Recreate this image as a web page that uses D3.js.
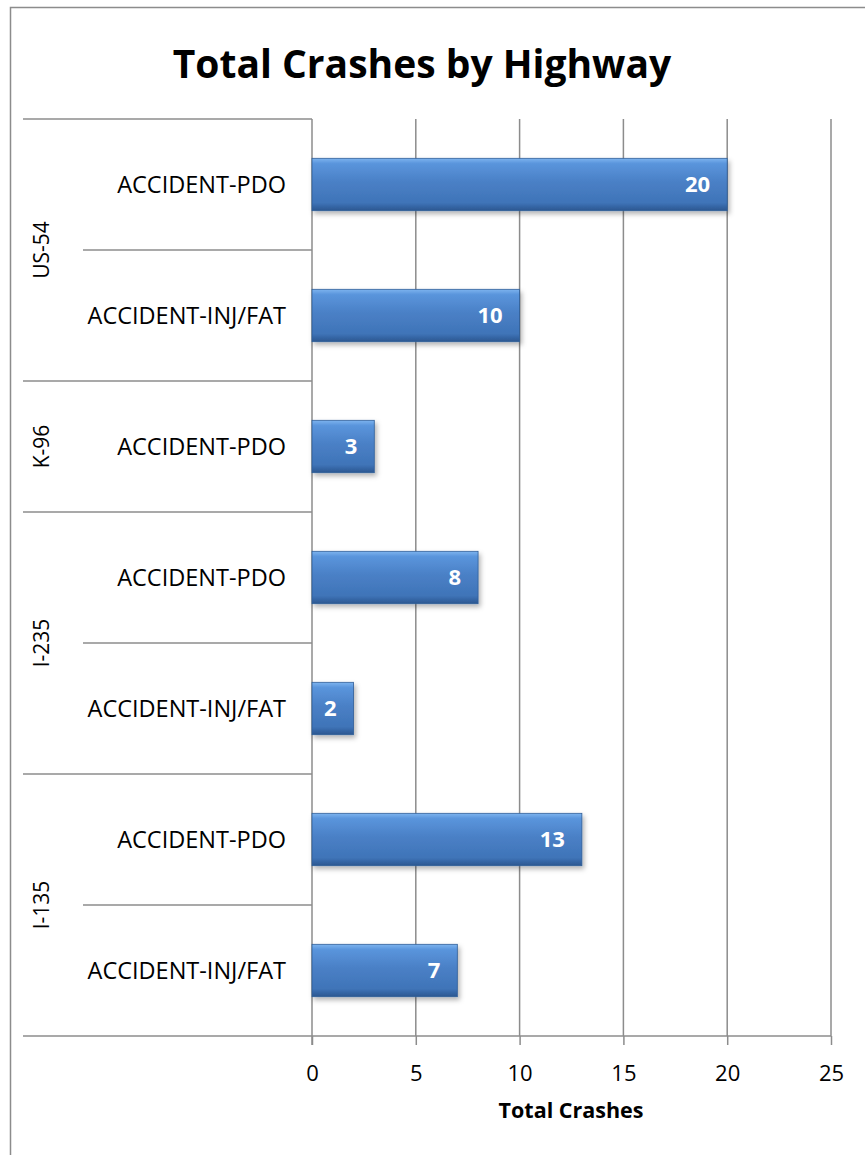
<!DOCTYPE html>
<html lang="en">
<head>
    <meta charset="UTF-8">
    <title>Total Crashes by Highway</title>
    <script src="https://d3js.org/d3.v7.min.js" charset="utf-8"></script>
    <style>
        body { margin: 0; background: white; }
        svg { display: block; font-family: "Open Sans", Lato, sans-serif; }
    </style>
</head>
<body>
    <div id="chart"></div>
    <script>

    // data, top to bottom as in the picture
    var highways = ['US-54', 'US-54', 'K-96', 'I-235', 'I-235', 'I-135', 'I-135'];
    var crashTypes = ['ACCIDENT-PDO', 'ACCIDENT-INJ/FAT', 'ACCIDENT-PDO', 'ACCIDENT-PDO',
                      'ACCIDENT-INJ/FAT', 'ACCIDENT-PDO', 'ACCIDENT-INJ/FAT'];
    var totals = [20, 10, 3, 8, 2, 13, 7];
    var xTicks = [0, 5, 10, 15, 20, 25];

    var width = 865, height = 1155;
    var rows = totals.map((d, i) => ({id: i, highway: highways[i], type: crashTypes[i], value: d}));

    var svg = d3.select('#chart').append('svg')
        .attr('width', width)
        .attr('height', height);

    var defs = svg.append('defs');
    var grad = defs.append('linearGradient')
        .attr('id', 'barGrad')
        .attr('x1', 0).attr('y1', 0).attr('x2', 0).attr('y2', 1);
    [['0%', '#7db4ef'], ['10%', '#5a95dc'], ['45%', '#4a80c6'], ['85%', '#3f74b8'], ['100%', '#2b5690']]
        .forEach(s => grad.append('stop').attr('offset', s[0]).attr('stop-color', s[1]));

    var shadow = defs.append('filter').attr('id', 'shadow')
        .attr('x', '-10%').attr('y', '-20%').attr('width', '130%').attr('height', '160%');
    shadow.append('feDropShadow')
        .attr('dx', 2).attr('dy', 3).attr('stdDeviation', 2.5)
        .attr('flood-color', '#000').attr('flood-opacity', 0.3);

    // outer chart border
    svg.append('rect')
        .attr('x', 10.5).attr('y', 7.5)
        .attr('width', 870).attr('height', 1160)
        .attr('fill', 'none')
        .attr('stroke', '#8c8c8c')
        .attr('stroke-width', 1.5);

    var plotTop = 119, plotBottom = 1036;
    var x = d3.scaleLinear().domain([0, 25]).range([312, 831]);
    var y = d3.scaleBand().domain(rows.map(d => d.id)).range([plotTop, plotBottom]).paddingInner(0.6).paddingOuter(0.3);
    var rowStep = (plotBottom - plotTop) / rows.length;

    // vertical gridlines
    svg.append('g').selectAll('line')
        .data(xTicks.slice(1))
        .enter().append('line')
        .attr('x1', d => x(d)).attr('x2', d => x(d))
        .attr('y1', plotTop).attr('y2', plotBottom)
        .attr('stroke', '#8c8c8c').attr('stroke-width', 1.5);

    // x axis
    var xAxis = svg.append('g')
        .attr('transform', 'translate(0,' + plotBottom + ')')
        .call(d3.axisBottom(x).tickValues(xTicks).tickSize(9).tickPadding(20));
    xAxis.select('.domain').remove();
    xAxis.selectAll('line').attr('stroke', '#8c8c8c').attr('stroke-width', 1.5);
    xAxis.selectAll('text')
        .attr('font-size', '22px')
        .attr('font-family', '"Open Sans", sans-serif')
        .attr('fill', '#000');

    svg.append('line')
        .attr('x1', 23).attr('x2', 831)
        .attr('y1', plotBottom).attr('y2', plotBottom)
        .attr('stroke', '#8c8c8c').attr('stroke-width', 1.5);

    // y axis line
    svg.append('line')
        .attr('x1', 312).attr('x2', 312)
        .attr('y1', plotTop).attr('y2', plotBottom + 9)
        .attr('stroke', '#8c8c8c').attr('stroke-width', 1.5);

    // row separators: long ones between highways, short ones inside a highway
    var seps = [];
    for (var i = 0; i < rows.length; i++) {
        var longLine = i === 0 || rows[i].highway !== rows[i - 1].highway;
        seps.push({y: plotTop + i * rowStep, long: longLine});
    }
    svg.append('g').selectAll('line')
        .data(seps)
        .enter().append('line')
        .attr('x1', d => d.long ? 23 : 83)
        .attr('x2', 312)
        .attr('y1', d => d.y).attr('y2', d => d.y)
        .attr('stroke', '#8c8c8c').attr('stroke-width', 1.5);

    // crash type labels
    svg.append('g').selectAll('text')
        .data(rows)
        .enter().append('text')
        .attr('x', 286)
        .attr('y', d => y(d.id) + y.bandwidth() / 2)
        .attr('dy', '0.35em')
        .attr('text-anchor', 'end')
        .attr('font-size', '23.5px')
        .text(d => d.type);

    // highway group labels
    var groups = Array.from(d3.group(rows, d => d.highway), ([key, v]) => ({
        key: key,
        y0: plotTop + d3.min(v, d => d.id) * rowStep,
        y1: plotTop + (d3.max(v, d => d.id) + 1) * rowStep
    }));
    svg.append('g').selectAll('text')
        .data(groups)
        .enter().append('text')
        .attr('transform', d => 'translate(42,' + (d.y0 + d.y1) / 2 + ') rotate(-90)')
        .attr('dy', '0.35em')
        .attr('text-anchor', 'middle')
        .attr('font-size', '21px')
        .text(d => d.key);

    // bars
    svg.append('g').selectAll('rect')
        .data(rows)
        .enter().append('rect')
        .attr('x', x(0))
        .attr('y', d => y(d.id))
        .attr('width', d => x(d.value) - x(0))
        .attr('height', y.bandwidth())
        .attr('fill', 'url(#barGrad)')
        .attr('stroke', '#2f5e98')
        .attr('stroke-width', 0.8)
        .attr('filter', 'url(#shadow)');

    // value labels
    svg.append('g').selectAll('text')
        .data(rows)
        .enter().append('text')
        .attr('x', d => x(d.value) - 17)
        .attr('y', d => y(d.id) + y.bandwidth() / 2)
        .attr('dy', '0.35em')
        .attr('text-anchor', 'end')
        .attr('font-size', '22px')
        .attr('font-weight', 'bold')
        .attr('fill', '#fff')
        .text(d => d.value);

    // title
    svg.append('text')
        .attr('x', 422).attr('y', 78)
        .attr('text-anchor', 'middle')
        .attr('font-size', '39px')
        .attr('font-weight', 'bold')
        .text('Total Crashes by Highway');

    // axis title
    svg.append('text')
        .attr('x', 571).attr('y', 1118)
        .attr('text-anchor', 'middle')
        .attr('font-size', '21.5px')
        .attr('font-weight', 'bold')
        .text('Total Crashes');

    </script>
</body>
</html>
